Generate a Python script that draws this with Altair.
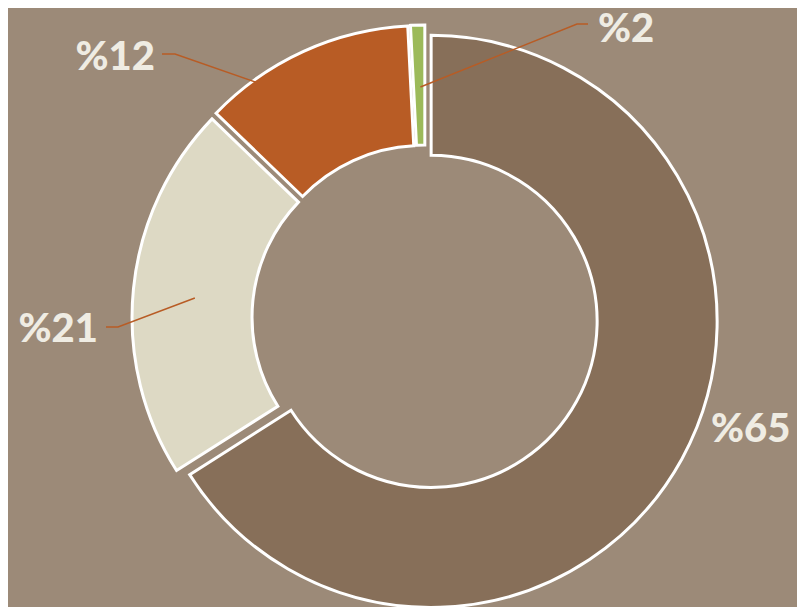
import math
import pandas as pd
import altair as alt

# ---- data ----
categories = ["%65", "%21", "%12", "%2"]
values = [66.0, 21.2, 12.0, 0.8]
colors = ["#876f59", "#ddd9c4", "#b85c25", "#9cba5a"]

# ---- layout (pixels within the plot area) ----
CX, CY = 417, 310
R_OUT, R_IN = 286, 166
EXPLODE = 7

# label layout: anchor on slice (radius, angle tweak), elbow, end of leader, text anchor
label_layout = {
    "%65": dict(leader=False, text=(703, 422), align="left"),
    "%21": dict(leader=True, ar=231, adj=-0.8, elbow=(110, 319), end=(98, 319), text=(90, 322), align="right"),
    "%12": dict(leader=True, ar=289, adj=-11.0, elbow=(167, 46), end=(154, 46), text=(147, 50), align="right"),
    "%2": dict(leader=True, ar=231, adj=0.3, elbow=(569, 16), end=(580, 16), text=(590, 22), align="left"),
}

total = sum(values)
rows = []
acc = 0.0
for cat, v in zip(categories, values):
    t0 = acc / total * 360
    acc += v
    t1 = acc / total * 360
    mid = (t0 + t1) / 2
    rows.append(dict(cat=cat, value=v, t0=t0, t1=t1, mid=mid,
                     px=CX + EXPLODE * math.sin(math.radians(mid)),
                     py=CY - EXPLODE * math.cos(math.radians(mid))))
df = pd.DataFrame(rows)

line_rows = []
text_rows = []
for r in rows:
    lay = label_layout[r["cat"]]
    if lay["leader"]:
        a = math.radians(r["mid"] + lay["adj"])
        ax = CX + lay["ar"] * math.sin(a)
        ay = CY - lay["ar"] * math.cos(a)
        pts = [(ax, ay), lay["elbow"], lay["end"]]
        for i, (x, y) in enumerate(pts):
            line_rows.append(dict(cat=r["cat"], i=i, x=x, y=y))
    text_rows.append(dict(cat=r["cat"], x=lay["text"][0], y=lay["text"][1], align=lay["align"]))
lines_df = pd.DataFrame(line_rows)
text_df = pd.DataFrame(text_rows)

arcs = alt.Chart(df).mark_arc(
    outerRadius=R_OUT, innerRadius=R_IN, stroke="white", strokeWidth=3
).encode(
    x=alt.X("px:Q", scale=None, axis=None),
    y=alt.Y("py:Q", scale=None, axis=None),
    theta=alt.Theta("t0:Q", scale=alt.Scale(domain=[0, 360], range=[0, 2 * math.pi]), stack=None),
    theta2="t1:Q",
    color=alt.Color("cat:N", scale=alt.Scale(domain=categories, range=colors), legend=None),
)

leaders = alt.Chart(lines_df).mark_line(color="#b85c25", strokeWidth=1.5).encode(
    x=alt.X("x:Q", scale=None, axis=None),
    y=alt.Y("y:Q", scale=None, axis=None),
    detail="cat:N",
    order="i:Q",
)

text_left = alt.Chart(text_df[text_df["align"] == "left"]).mark_text(
    align="left", baseline="middle", font="Lato", fontWeight=900, fontSize=40, color="#efece3"
).encode(
    x=alt.X("x:Q", scale=None, axis=None),
    y=alt.Y("y:Q", scale=None, axis=None),
    text="cat:N",
)
text_right = alt.Chart(text_df[text_df["align"] == "right"]).mark_text(
    align="right", baseline="middle", font="Lato", fontWeight=900, fontSize=40, color="#efece3"
).encode(
    x=alt.X("x:Q", scale=None, axis=None),
    y=alt.Y("y:Q", scale=None, axis=None),
    text="cat:N",
)

chart = alt.layer(arcs, leaders, text_left, text_right).properties(
    width=789, height=599, background="#9c8a78", padding=0,
    autosize=alt.AutoSizeParams(type="none"),
).configure_view(stroke=None)

chart.save("out.html", embed_options={"renderer": "svg", "actions": False})
